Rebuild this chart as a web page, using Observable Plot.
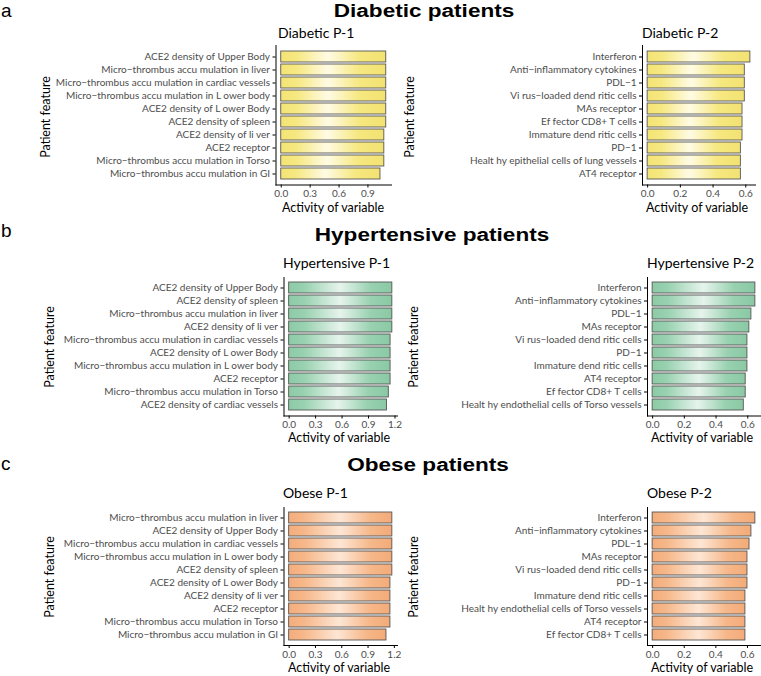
<!DOCTYPE html>
<html>
<head>
<meta charset="utf-8">
<script src="https://cdn.jsdelivr.net/npm/d3@7"></script>
<script src="https://cdn.jsdelivr.net/npm/@observablehq/plot@0.6"></script>
<style>
  html, body { margin: 0; padding: 0; background: #fff; }
  #page { position: relative; width: 761px; height: 676px; overflow: hidden; background: #fff; }
  .panel { position: absolute; }
  .panel svg text { fill: #4d4d4d; }
  .panel svg [aria-label="x-axis"] path.domain,
  .panel svg [aria-label="y-axis"] path.domain,
  .panel svg [aria-label="x-axis line"] line,
  .panel svg [aria-label="y-axis line"] line,
  .panel svg [aria-label="x-axis line"] path,
  .panel svg [aria-label="y-axis line"] path { stroke-width: 1.6; }
  #overlay { position: absolute; left: 0; top: 0; pointer-events: none; }
</style>
</head>
<body>
<div id="page">
<svg id="overlay" width="761" height="676" xmlns="http://www.w3.org/2000/svg">
  <defs>
    <linearGradient id="grad-yellow" x1="0" x2="1" y1="0" y2="0">
      <stop offset="0" stop-color="#f4e476"/>
      <stop offset="0.15" stop-color="#f6e880"/>
      <stop offset="0.45" stop-color="#fffbe4"/>
      <stop offset="0.75" stop-color="#f6e880"/>
      <stop offset="1" stop-color="#f3e272"/>
    </linearGradient>
    <linearGradient id="grad-green" x1="0" x2="1" y1="0" y2="0">
      <stop offset="0" stop-color="#8ccba6"/>
      <stop offset="0.15" stop-color="#98d1b0"/>
      <stop offset="0.5" stop-color="#e6f4ec"/>
      <stop offset="0.8" stop-color="#98d1b0"/>
      <stop offset="1" stop-color="#8ac9a4"/>
    </linearGradient>
    <linearGradient id="grad-orange" x1="0" x2="1" y1="0" y2="0">
      <stop offset="0" stop-color="#f4ad7b"/>
      <stop offset="0.15" stop-color="#f6b789"/>
      <stop offset="0.5" stop-color="#fde6d4"/>
      <stop offset="0.8" stop-color="#f6b789"/>
      <stop offset="1" stop-color="#f3ab78"/>
    </linearGradient>
  </defs>
</svg>
</div>
<script>
// ---------------- data ----------------
const rowTitles = ["Diabetic patients", "Hypertensive patients", "Obese patients"];
const rowLetters = ["a", "b", "c"];
const panelTitles = ["Diabetic P-1", "Diabetic P-2", "Hypertensive P-1", "Hypertensive P-2", "Obese P-1", "Obese P-2"];
const yTitle = "Patient feature";
const xTitle = "Activity of variable";

const diabeticP1Labels = [
  "ACE2 density of Upper Body",
  "Micro−thrombus accu mulation in liver",
  "Micro−thrombus accu mulation in cardiac vessels",
  "Micro−thrombus accu mulation in L ower body",
  "ACE2 density of L ower Body",
  "ACE2 density of spleen",
  "ACE2 density of li ver",
  "ACE2 receptor",
  "Micro−thrombus accu mulation in Torso",
  "Micro−thrombus accu mulation in GI"
];
const diabeticP1Values = [1.09, 1.09, 1.09, 1.09, 1.09, 1.09, 1.07, 1.07, 1.07, 1.03];

const diabeticP2Labels = [
  "Interferon",
  "Anti−inflammatory cytokines",
  "PDL−1",
  "Vi rus−loaded dend ritic cells",
  "MAs receptor",
  "Ef fector CD8+ T cells",
  "Immature dend ritic cells",
  "PD−1",
  "Healt hy epithelial cells of lung vessels",
  "AT4 receptor"
];
const diabeticP2Values = [0.628, 0.594, 0.594, 0.594, 0.58, 0.58, 0.58, 0.57, 0.57, 0.57];

const hyperP1Labels = [
  "ACE2 density of Upper Body",
  "ACE2 density of spleen",
  "Micro−thrombus accu mulation in liver",
  "ACE2 density of li ver",
  "Micro−thrombus accu mulation in cardiac vessels",
  "ACE2 density of L ower Body",
  "Micro−thrombus accu mulation in L ower body",
  "ACE2 receptor",
  "Micro−thrombus accu mulation in Torso",
  "ACE2 density of cardiac vessels"
];
const hyperP1Values = [1.17, 1.17, 1.17, 1.17, 1.15, 1.15, 1.15, 1.15, 1.13, 1.11];

const hyperP2Labels = [
  "Interferon",
  "Anti−inflammatory cytokines",
  "PDL−1",
  "MAs receptor",
  "Vi rus−loaded dend ritic cells",
  "PD−1",
  "Immature dend ritic cells",
  "AT4 receptor",
  "Ef fector CD8+ T cells",
  "Healt hy endothelial cells of Torso vessels"
];
const hyperP2Values = [0.648, 0.648, 0.623, 0.61, 0.598, 0.598, 0.598, 0.587, 0.587, 0.575];

const obeseP1Labels = [
  "Micro−thrombus accu mulation in liver",
  "ACE2 density of Upper Body",
  "Micro−thrombus accu mulation in cardiac vessels",
  "Micro−thrombus accu mulation in L ower body",
  "ACE2 density of spleen",
  "ACE2 density of L ower Body",
  "ACE2 density of li ver",
  "ACE2 receptor",
  "Micro−thrombus accu mulation in Torso",
  "Micro−thrombus accu mulation in GI"
];
const obeseP1Values = [1.177, 1.177, 1.177, 1.177, 1.177, 1.155, 1.155, 1.155, 1.155, 1.11];

const obeseP2Labels = [
  "Interferon",
  "Anti−inflammatory cytokines",
  "PDL−1",
  "MAs receptor",
  "Vi rus−loaded dend ritic cells",
  "PD−1",
  "Immature dend ritic cells",
  "Healt hy endothelial cells of Torso vessels",
  "AT4 receptor",
  "Ef fector CD8+ T cells"
];
const obeseP2Values = [0.65, 0.625, 0.613, 0.6, 0.6, 0.6, 0.587, 0.587, 0.587, 0.587];

const ticksP1a = [0, 0.3, 0.6, 0.9];
const ticksP1 = [0, 0.3, 0.6, 0.9, 1.2];
const ticksP2 = [0, 0.2, 0.4, 0.6];

// ---------------- layout ----------------
const panels = [
  {labels: diabeticP1Labels, values: diabeticP1Values, ticks: ticksP1a, grad: "yellow", left: 0,   svgW: 410, x0: 275.5, x1: 391, y0: 44.5, y1: 184},
  {labels: diabeticP2Labels, values: diabeticP2Values, ticks: ticksP2,  grad: "yellow", left: 400, svgW: 361, x0: 642,   x1: 755, y0: 44.5, y1: 184},
  {labels: hyperP1Labels,    values: hyperP1Values,    ticks: ticksP1,  grad: "green",  left: 0,   svgW: 410, x0: 283.5, x1: 397, y0: 276.5, y1: 415},
  {labels: hyperP2Labels,    values: hyperP2Values,    ticks: ticksP2,  grad: "green",  left: 400, svgW: 361, x0: 647,   x1: 760, y0: 276.5, y1: 415},
  {labels: obeseP1Labels,    values: obeseP1Values,    ticks: ticksP1,  grad: "orange", left: 0,   svgW: 410, x0: 283.5, x1: 397, y0: 507, y1: 645},
  {labels: obeseP2Labels,    values: obeseP2Values,    ticks: ticksP2,  grad: "orange", left: 400, svgW: 361, x0: 647,   x1: 760, y0: 507, y1: 645}
];

const page = document.getElementById("page");
const mt = 4, mb = 22;
panels.forEach(p => {
  const data = p.labels.map((label, i) => ({label, value: p.values[i]}));
  const max = d3.max(p.values);
  const chart = Plot.plot({
    width: p.svgW,
    height: (p.y1 - p.y0) + mt + mb,
    marginLeft: p.x0 - p.left,
    marginRight: p.left + p.svgW - p.x1,
    marginTop: mt,
    marginBottom: mb,
    style: {background: "transparent", overflow: "visible", fontFamily: "Lato, sans-serif", fontSize: "10px", color: "#000"},
    x: {domain: [-0.05 * max, 1.05 * max], ticks: p.ticks, tickFormat: ".1f", tickSize: 3, tickPadding: 2, line: true, label: null},
    y: {domain: p.labels, paddingInner: 0.15, paddingOuter: 0.175, tickSize: 3, tickPadding: 3, line: true, label: null},
    marks: [
      Plot.barX(data, {x: "value", y: "label", fill: `url(#grad-${p.grad})`, stroke: "#555", strokeWidth: 0.9})
    ]
  });
  const div = document.createElement("div");
  div.className = "panel";
  div.style.left = p.left + "px";
  div.style.top = (p.y0 - mt) + "px";
  div.appendChild(chart);
  page.insertBefore(div, document.getElementById("overlay"));
});

// ---------------- overlay text ----------------
const ov = d3.select("#overlay");
const rowTitleX = [424, 432, 428];
const rowTitleY = [16.5, 240.5, 470.5];
const letterY = [17, 237, 470];
rowTitles.forEach((t, i) => {
  ov.append("text").attr("x", 1).attr("y", letterY[i])
    .attr("font-family", "Liberation Sans, Arial, sans-serif").attr("font-size", 19).text(rowLetters[i]);
  ov.append("text").attr("transform", `translate(${rowTitleX[i]},${rowTitleY[i]}) scale(1.22,1)`)
    .attr("text-anchor", "middle").attr("font-family", "Liberation Sans, Arial, sans-serif")
    .attr("font-weight", "bold").attr("font-size", 18.5).text(t);
});
const ptX = [278, 642, 283, 647, 283, 647];
const ptY = [37.5, 37.5, 267.5, 267.5, 497.5, 497.5];
panelTitles.forEach((t, i) => {
  ov.append("text").attr("x", ptX[i]).attr("y", ptY[i]).attr("font-family", "Lato, sans-serif")
    .attr("font-size", 14).text(t);
});
const ytX = [50, 414, 54, 418, 54, 418];
const ytY = [117, 117, 347, 347, 577, 577];
const xtX = [333, 697, 339, 702, 339, 702];
const xtY = [211.5, 211.5, 441.5, 441.5, 671.5, 671.5];
panels.forEach((p, i) => {
  ov.append("text").attr("transform", `translate(${ytX[i]},${ytY[i]}) rotate(-90)`)
    .attr("text-anchor", "middle").attr("font-family", "Lato, sans-serif").attr("font-size", 12.5).text(yTitle);
  ov.append("text").attr("x", xtX[i]).attr("y", xtY[i]).attr("text-anchor", "middle")
    .attr("font-family", "Lato, sans-serif").attr("font-size", 12.5).text(xTitle);
});
</script>
</body>
</html>
